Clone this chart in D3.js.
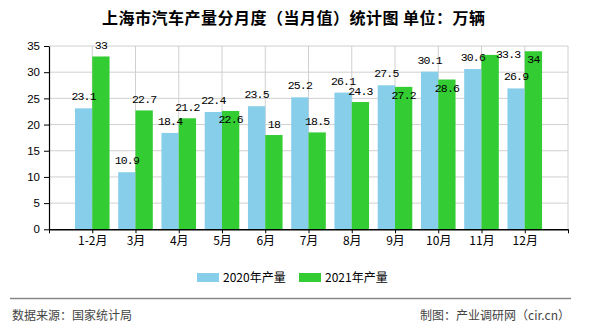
<!DOCTYPE html>
<html><head><meta charset="utf-8">
<script src="https://cdn.jsdelivr.net/npm/d3@7/dist/d3.min.js"></script>
<style>
html,body{margin:0;padding:0;background:#fff;}
svg{display:block;}
</style></head>
<body><div id="chart"></div>
<script>
const categories = ["1-2月","3月","4月","5月","6月","7月","8月","9月","10月","11月","12月"];
const values2020 = [23.1,10.9,18.4,22.4,23.5,25.2,26.1,27.5,30.1,30.6,26.9];
const values2021 = [33,22.7,21.2,22.6,18,18.5,24.3,27.2,28.6,33.3,34];
const seriesNames = ["2020年产量","2021年产量"];
const yTicks = [0,5,10,15,20,25,30,35];
// label placement hints for 2021 series (to avoid overlapping)
const label2021Place = ["above","above","above","inside","above","above","above","inside","inside","right","inside"];

(function () {
const W = 590, H = 330;
const colors = ["#87CEEB", "#33CC33"];
const svg = d3.select("#chart").append("svg").attr("width", W).attr("height", H);

const pL = 49, pR = 568, pT = 46, pB = 229.3;
const x = d3.scaleLinear().domain([0, categories.length + 1]).range([pL, pR]);
const y = d3.scaleLinear().domain([0, 35]).range([pB, pT]);
const step = x(1) - x(0);
const bw = step * 0.4;

// grid
const g = svg.append("g");
g.selectAll(".hg").data(yTicks.filter(d => d > 0)).enter().append("line")
  .attr("x1", pL).attr("x2", pR).attr("y1", d => y(d)).attr("y2", d => y(d))
  .attr("stroke", "#d0d0d0").attr("stroke-width", 1);
g.selectAll(".vg").data(d3.range(1, categories.length + 2)).enter().append("line")
  .attr("x1", d => x(d)).attr("x2", d => x(d)).attr("y1", pT).attr("y2", pB)
  .attr("stroke", "#d0d0d0").attr("stroke-width", 1);

// bars
const data = categories.map((c, i) => ({c, i, a: values2020[i], b: values2021[i]}));
g.selectAll(".b1").data(data).enter().append("rect")
  .attr("x", d => x(d.i + 1) - bw).attr("width", bw)
  .attr("y", d => y(d.a)).attr("height", d => y(0) - y(d.a))
  .attr("fill", colors[0]);
g.selectAll(".b2").data(data).enter().append("rect")
  .attr("x", d => x(d.i + 1)).attr("width", bw)
  .attr("y", d => y(d.b)).attr("height", d => y(0) - y(d.b))
  .attr("fill", colors[1]);

// axes
const yAxis = d3.axisLeft(y).tickValues(yTicks).tickSize(5).tickSizeOuter(0).tickPadding(4);
const ya = svg.append("g").attr("transform", `translate(${pL},0)`).call(yAxis);
ya.select(".domain").attr("stroke", "#000").attr("stroke-width", 1.2);
ya.selectAll(".tick line").attr("stroke", "#000");
ya.selectAll("text").attr("font-family", "Liberation Sans, Arial, sans-serif").attr("font-size", 11.5).attr("fill", "#000");

const xAxis = d3.axisBottom(x).tickValues(d3.range(0, categories.length + 2))
  .tickFormat(i => (i >= 1 && i <= categories.length) ? categories[i - 1] : "")
  .tickSize(4).tickSizeOuter(0).tickPadding(3);
const xa = svg.append("g").attr("transform", `translate(0,${pB})`).call(xAxis);
xa.select(".domain").attr("stroke", "#000").attr("stroke-width", 1.5);
xa.selectAll(".tick line").attr("stroke", "#000");
xa.selectAll("text").attr("font-family", "Noto Sans CJK SC, sans-serif").attr("font-size", 12).attr("fill", "#000");

// value labels
const lblFont = "Liberation Mono, DejaVu Sans Mono, monospace";
svg.selectAll(".l1").data(data).enter().append("text")
  .attr("x", d => x(d.i + 1) - bw / 2).attr("y", d => y(d.a) - 12)
  .attr("dy", "0.35em").attr("text-anchor", "middle")
  .attr("font-family", lblFont).attr("font-size", 11.5).attr("letter-spacing", -0.8)
  .attr("fill", "#000").text(d => d.a);
svg.selectAll(".l2").data(data).enter().append("text")
  .attr("x", d => x(d.i + 1) + bw / 2 + (label2021Place[d.i] === "right" ? 18 : 0))
  .attr("y", d => y(d.b) + (label2021Place[d.i] === "inside" ? 8 : label2021Place[d.i] === "right" ? -1 : -11))
  .attr("dy", "0.35em").attr("text-anchor", "middle")
  .attr("font-family", lblFont).attr("font-size", 11.5).attr("letter-spacing", -0.8)
  .attr("fill", "#000").text(d => d.b);

// title
svg.append("text").attr("x", 102).attr("y", 18).attr("dy", "0.35em")
  .attr("font-family", "Noto Sans CJK SC, sans-serif").attr("font-size", 16).attr("font-weight", "bold")
  .attr("textLength", 383).attr("lengthAdjust", "spacing")
  .attr("fill", "#000").text("上海市汽车产量分月度（当月值）统计图 单位：万辆");

// legend
const legX = [197, 299];
seriesNames.forEach((n, i) => {
  svg.append("rect").attr("x", legX[i]).attr("y", 273).attr("width", 22).attr("height", 9).attr("fill", colors[i]);
  svg.append("text").attr("x", legX[i] + 26).attr("y", 277.5).attr("dy", "0.35em")
    .attr("font-family", "Noto Sans CJK SC, sans-serif").attr("font-size", 12).attr("fill", "#000").text(n);
});

// footer
svg.append("line").attr("x1", 10).attr("x2", 571).attr("y1", 298.5).attr("y2", 298.5)
  .attr("stroke", "#888").attr("stroke-width", 1.5);
svg.append("text").attr("x", 12).attr("y", 316).attr("dy", "0.35em")
  .attr("font-family", "Noto Sans CJK SC, sans-serif").attr("font-size", 12).attr("fill", "#444")
  .text("数据来源：国家统计局");
svg.append("text").attr("x", 570).attr("y", 316).attr("dy", "0.35em").attr("text-anchor", "end")
  .attr("font-family", "Noto Sans CJK SC, sans-serif").attr("font-size", 12).attr("fill", "#444")
  .text("制图：产业调研网（cir.cn）");
})();
</script></body></html>
